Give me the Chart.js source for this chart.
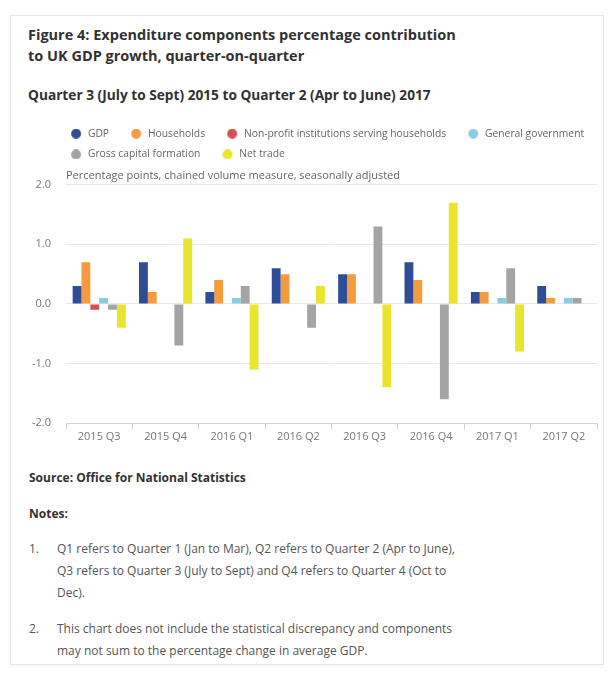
<!DOCTYPE html>
<html lang="en">
<head>
  <meta charset="UTF-8" />
  <title>Figure 4: Expenditure components percentage contribution to UK GDP growth</title>
  <script src="https://cdn.jsdelivr.net/npm/chart.js"></script>
  <style>
    * { box-sizing: border-box; }
    body {
      margin: 0;
      background: #fff;
      font-family: 'Open Sans', sans-serif;
      color: #323132;
    }
    .card {
      position: absolute;
      left: 10px; top: 15px;
      width: 594px; height: 650px;
      border: 1px solid #e6e6e6;
      box-shadow: 0 1px 3px rgb(0 0 0 / 0.06);
    }
    h1 {
      position: absolute; left: 28px; top: 24px; margin: 0;
      font-size: 14.5px; line-height: 21px; font-weight: 700;
    }
    h2 {
      position: absolute; left: 28px; top: 86px; margin: 0;
      font-size: 13.7px; line-height: 18px; font-weight: 700;
    }
    #wrap {
      position: absolute; left: 20px; top: 118px;
      width: 595px; height: 330px;
    }
    .source, .notes-head {
      position: absolute; left: 29px; margin: 0;
      font-size: 12px; line-height: 18px; font-weight: 700;
    }
    .source { top: 469px; }
    .notes-head { top: 505px; }
    ol {
      position: absolute; left: 29px; top: 538px; margin: 0; padding: 0;
      list-style: none; width: 440px;
      font-size: 12px; line-height: 22px; color: #555;
    }
    ol li { position: relative; padding-left: 28px; margin-bottom: 14px; }
    ol li span { position: absolute; left: 0; top: 0; }
  </style>
</head>
<body>
  <div class="card"></div>
  <h1>Figure 4: Expenditure components percentage contribution<br>to UK GDP growth, quarter-on-quarter</h1>
  <h2>Quarter 3 (July to Sept) 2015 to Quarter 2 (Apr to June) 2017</h2>
  <div id="wrap"><canvas id="grafico"></canvas></div>
  <p class="source">Source: Office for National Statistics</p>
  <p class="notes-head">Notes:</p>
  <ol>
    <li><span>1.</span>Q1 refers to Quarter 1 (Jan to Mar), Q2 refers to Quarter 2 (Apr to June),<br>Q3 refers to Quarter 3 (July to Sept) and Q4 refers to Quarter 4 (Oct to<br>Dec).</li>
    <li><span>2.</span>This chart does not include the statistical discrepancy and components<br>may not sum to the percentage change in average GDP.</li>
  </ol>

  <script>
    const trimestres = ['2015 Q3', '2015 Q4', '2016 Q1', '2016 Q2', '2016 Q3', '2016 Q4', '2017 Q1', '2017 Q2'];

    const gdp         = [0.3, 0.7, 0.2, 0.6, 0.5, 0.7, 0.2, 0.3];
    const households  = [0.7, 0.2, 0.4, 0.5, 0.5, 0.4, 0.2, 0.1];
    const nonProfit   = [-0.1, 0, 0, 0, 0, 0, 0, 0];
    const government  = [0.1, 0, 0.1, 0, 0, 0, 0.1, 0.1];
    const capital     = [-0.1, -0.7, 0.3, -0.4, 1.3, -1.6, 0.6, 0.1];
    const netTrade    = [-0.4, 1.1, -1.1, 0.3, -1.4, 1.7, -0.8, 0];

    const series = [
      { label: 'GDP', data: gdp, color: '#2f4d96' },
      { label: 'Households', data: households, color: '#f59b3d' },
      { label: 'Non-profit institutions serving households', data: nonProfit, color: '#dc4d52' },
      { label: 'General government', data: government, color: '#8acde2' },
      { label: 'Gross capital formation', data: capital, color: '#a4a4a4' },
      { label: 'Net trade', data: netTrade, color: '#e9e42c' }
    ];

    // marcador de leyenda: círculo desplazado a la derecha dentro de la caja
    function puntoLeyenda(color) {
      const c = document.createElement('canvas');
      c.width = 24; c.height = 10;
      const g = c.getContext('2d');
      g.fillStyle = color;
      g.beginPath();
      g.arc(17, 5, 5, 0, Math.PI * 2);
      g.fill();
      return c;
    }
    const puntos = series.map(s => puntoLeyenda(s.color));

    const tickFont = { family: "'Open Sans', sans-serif", size: 11 };

    new Chart(document.getElementById('grafico'), {
      type: 'bar',
      data: {
        labels: trimestres,
        datasets: series.map(s => ({
          label: s.label,
          data: s.data,
          backgroundColor: s.color,
          borderWidth: 0,
          categoryPercentage: 0.8,
          barPercentage: 1
        }))
      },
      options: {
        responsive: true,
        maintainAspectRatio: false,
        animation: false,
        layout: { padding: { left: 29, right: 0, top: 0, bottom: 0 } },
        plugins: {
          tooltip: { enabled: false },
          legend: {
            position: 'top',
            align: 'start',
            weight: 3000,
            labels: {
              usePointStyle: true,
              pointStyleWidth: 23.25,
              padding: 10.5,
              color: '#666',
              font: { family: "'Open Sans', sans-serif", size: 10.3 },
              generateLabels: chart =>
                Chart.defaults.plugins.legend.labels.generateLabels(chart)
                  .map((l, i) => ({ ...l, pointStyle: puntos[i] }))
            }
          },
          title: {
            display: true,
            text: 'Percentage points, chained volume measure, seasonally adjusted',
            align: 'start',
            position: 'top',
            fullSize: false,
            weight: 100,
            color: '#666',
            font: { family: "'Open Sans', sans-serif", size: 11, weight: 'normal' },
            padding: { top: 0, bottom: 2 }
          }
        },
        scales: {
          x: {
            afterFit: s => { s.height = 25; },
            grid: {
              offset: true,
              drawOnChartArea: false,
              drawTicks: true,
              tickLength: 6,
              color: '#cfcfcf'
            },
            border: { display: true, color: '#cfcfcf' },
            ticks: { color: '#777', font: tickFont, padding: 1, maxRotation: 0 }
          },
          y: {
            min: -2,
            max: 2,
            afterFit: s => { s.width = 17; },
            grid: { color: '#e8e8e8', drawTicks: false },
            border: { display: false },
            ticks: {
              stepSize: 1,
              color: '#777',
              font: tickFont,
              mirror: true,
              crossAlign: 'far',
              padding: -34,
              callback: v => v.toFixed(1)
            }
          },
          margen: {
            position: 'right',
            display: true,
            afterFit: s => { s.width = 18; },
            grid: { display: false, drawTicks: false },
            border: { display: false },
            ticks: { display: false }
          }
        }
      }
    });
  </script>
</body>
</html>
